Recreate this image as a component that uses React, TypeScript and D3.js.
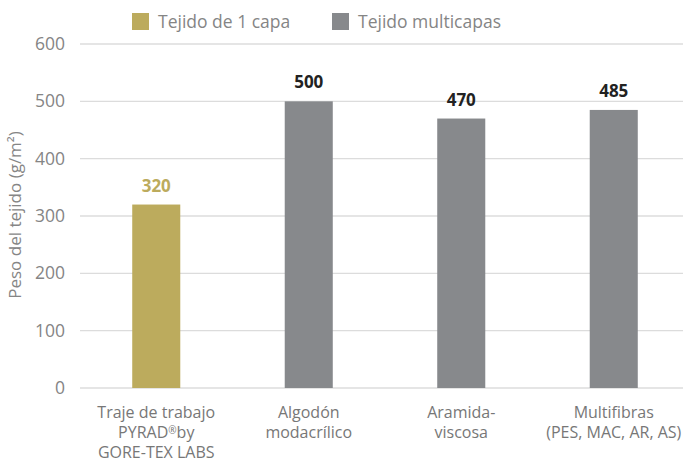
import React from "react";
import * as d3 from "d3";

const categories = [
  ["Traje de trabajo", "PYRAD®by", "GORE-TEX LABS"],
  ["Algodón", "modacrílico"],
  ["Aramida-", "viscosa"],
  ["Multifibras", "(PES, MAC, AR, AS)"],
];
const values = [320, 500, 470, 485];
const seriesIndex = [0, 1, 1, 1];
const seriesNames = ["Tejido de 1 capa", "Tejido multicapas"];
const seriesColors = ["#bcab5d", "#87898c"];
const labelColors = ["#bcab5d", "#222222"];
const yTicks = [0, 100, 200, 300, 400, 500, 600];

const W = 683;
const H = 464;
const FONT = "'Open Sans', 'Noto Sans', sans-serif";

function renderLine(line: string) {
  const parts = line.split("®");
  if (parts.length === 1) return line;
  return (
    <>
      {parts[0]}
      <tspan fontSize={10} dy={-4.5}>®</tspan>
      <tspan dy={4.5}>{parts[1]}</tspan>
    </>
  );
}

export default function App() {
  const x = d3
    .scaleBand<number>()
    .domain(values.map((_, i) => i))
    .range([80, 690])
    .paddingInner(0.685)
    .paddingOuter(0.3425);
  const y = d3.scaleLinear().domain([0, 600]).range([388, 44]);

  return (
    <svg
      width={W}
      height={H}
      style={{ position: "absolute", left: 0, top: 0, background: "#fff" }}
      fontFamily={FONT}
    >
      {yTicks.map((t) => (
        <g key={t}>
          <line x1={80} x2={683} y1={y(t)} y2={y(t)} stroke="#dcdcdc" strokeWidth={1.3} />
          <text x={65} y={y(t)} dy="0.35em" textAnchor="end" fontSize={17.5} fill="#858585">
            {t}
          </text>
        </g>
      ))}
      <text
        transform={`translate(15,${y(300) - 1}) rotate(-90)`}
        textAnchor="middle"
        dy="0.35em"
        fontSize={17}
        fill="#858585"
      >
        Peso del tejido (g/m²)
      </text>
      {values.map((v, i) => (
        <g key={i}>
          <rect
            x={x(i)}
            y={y(v)}
            width={x.bandwidth()}
            height={y(0) - y(v)}
            fill={seriesColors[seriesIndex[i]]}
          />
          <text
            x={(x(i) as number) + x.bandwidth() / 2}
            y={y(v) - 13}
            textAnchor="middle"
            fontSize={17}
            fontWeight="bold"
            fill={labelColors[seriesIndex[i]]}
          >
            {v}
          </text>
          {categories[i].map((line, j) => (
            <text
              key={j}
              x={(x(i) as number) + x.bandwidth() / 2}
              y={418 + j * 20}
              textAnchor="middle"
              fontSize={16}
              fill="#777"
            >
              {renderLine(line)}
            </text>
          ))}
        </g>
      ))}
      {seriesNames.map((s, k) => (
        <g key={s} transform={`translate(${[132, 332][k]},13)`}>
          <rect width={17} height={17} fill={seriesColors[k]} />
          <text x={26} y={8.5} dy="0.35em" fontSize={17.5} fill="#858585">
            {s}
          </text>
        </g>
      ))}
    </svg>
  );
}
